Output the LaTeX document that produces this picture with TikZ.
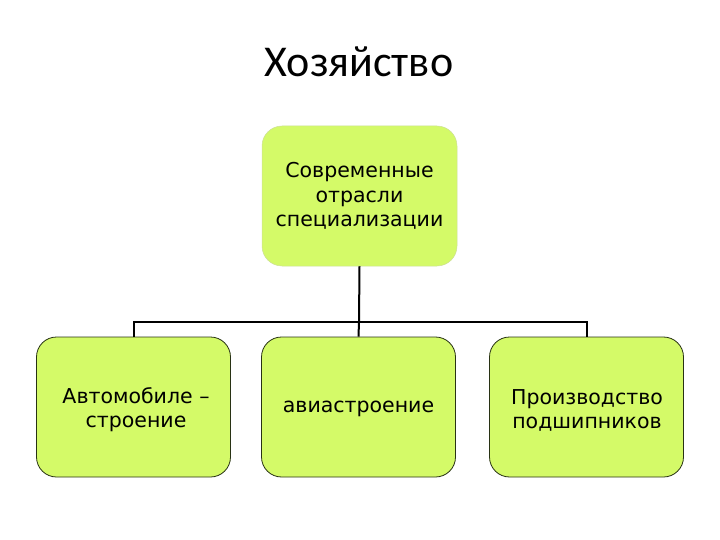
\documentclass[tikz,border=0pt]{standalone}
\usepackage{fontspec}
\setmainfont{DejaVu Sans}
\newfontfamily\titlefont{Carlito}
\definecolor{boxgreen}{RGB}{212,250,104}
\definecolor{boxedge}{RGB}{40,50,20}
\begin{document}
\begin{tikzpicture}[x=1pt,y=-1pt,
  topbox/.style={fill=boxgreen,draw=boxgreen!80!black!60,line width=0.5pt,rounded corners=20pt,minimum width=195pt,minimum height=140pt,align=center,inner sep=0pt,font=\fontsize{20.5}{24.5}\selectfont},
  leafbox/.style={fill=boxgreen,draw=boxedge,line width=0.8pt,rounded corners=20pt,minimum width=194pt,minimum height=140pt,align=center,inner sep=0pt,font=\fontsize{20.5}{24}\selectfont},
  conn/.style={line width=2pt,black}]
\useasboundingbox (0,0) rectangle (720,540);
\node[font=\titlefont\fontsize{44}{52}\selectfont] (title) at (359,62) {Хозяйство};
\node[topbox] (top) at (359.5,196) {Современные\\отрасли\\специализации};
\node[leafbox] (a) at (133.5,407) {};
\node[leafbox] (b) at (358.5,407) {};
\node[leafbox] (c) at (586.5,407) {};
\node[font=\fontsize{20.5}{24}\selectfont,align=center] (at) at (136,410) {Автомобиле –\\строение};
\node[font=\fontsize{20.5}{24}\selectfont,align=center] (bt) at (358.5,409) {авиастроение};
\node[font=\fontsize{20.5}{24}\selectfont,align=center] (ct) at (587,410) {Производство\\подшипников};
\coordinate (j) at (359,322);
\draw[conn] (top.south) -- (j);
\draw[conn] (a.north) |- (j) -| (c.north);
\draw[conn] (j) -- (b.north);
\end{tikzpicture}
\end{document}
